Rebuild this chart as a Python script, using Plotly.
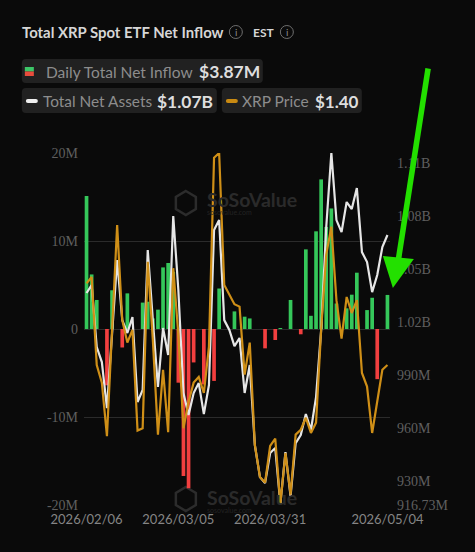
import plotly.graph_objects as go

W, H = 475, 552
L, R, T, B = 84.15, 390.15, 153, 505

dates = ["2026/02/06","2026/02/09","2026/02/10","2026/02/11","2026/02/12","2026/02/13","2026/02/17","2026/02/18","2026/02/19","2026/02/20",
         "2026/02/23","2026/02/24","2026/02/25","2026/02/26","2026/02/27","2026/03/02","2026/03/03","2026/03/04","2026/03/05","2026/03/06",
         "2026/03/09","2026/03/10","2026/03/11","2026/03/12","2026/03/13","2026/03/16","2026/03/17","2026/03/18","2026/03/19","2026/03/20",
         "2026/03/23","2026/03/24","2026/03/25","2026/03/26","2026/03/27","2026/03/30","2026/03/31","2026/04/01","2026/04/02","2026/04/06",
         "2026/04/07","2026/04/08","2026/04/09","2026/04/10","2026/04/13","2026/04/14","2026/04/15","2026/04/16","2026/04/17","2026/04/20",
         "2026/04/21","2026/04/22","2026/04/23","2026/04/24","2026/04/27","2026/04/28","2026/04/29","2026/04/30","2026/05/01","2026/05/04"]

net_inflow = [15.1,6.2,3.3,0,-6.4,4.4,0,-2.1,4.05,0,
              0,3.0,3.1,1.2,2.2,7.0,7.5,6.5,-6.1,-16.7,
              -18.1,-3.8,0,-6.3,0,-5.9,4.6,0,0,2.0,
              0,1.4,1.2,0,0,-2.2,0,-1.25,0.1,0,
              3.3,0,-0.6,9.05,1.5,11.1,17.0,11.6,13.7,2.9,
              0,2.35,3.9,6.4,0,2.15,3.55,-5.7,0,3.87]

net_assets = [1036.5,1041.0,1006.0,997.5,971.5,1015.6,1055.1,1021.2,1013.9,1022.9,
              974.9,981.7,1060.8,1021.2,983.4,1016.7,1001.5,1080.0,1038.2,980.0,
              967.6,980.0,985.6,968.1,984.5,1072.1,1077.7,1021.2,1015.6,1006.5,
              1011.1,980.0,995.8,950.6,932.5,929.1,946.1,948.9,917.3,946.6,
              921.8,951.7,956.3,968.1,959.1,977.7,1015.6,1073.8,1115.6,1077.7,
              1070.9,1087.9,1083.9,1095.8,1059.6,1054.0,1037.0,1046.7,1062.5,1069.3]

xrp_price = [1.502,1.510,1.400,1.378,1.311,1.444,1.575,1.456,1.428,1.444,
             1.318,1.321,1.529,1.431,1.313,1.394,1.316,1.521,1.438,1.321,
             1.354,1.378,1.385,1.365,1.423,1.659,1.665,1.500,1.488,1.476,
             1.473,1.388,1.428,1.300,1.260,1.253,1.299,1.308,1.226,1.290,
             1.238,1.313,1.319,1.334,1.315,1.328,1.444,1.538,1.573,1.481,
             1.433,1.485,1.465,1.481,1.390,1.373,1.315,1.356,1.394,1.400]

x_ticks = ["2026/02/06","2026/03/05","2026/03/31","2026/05/04"]
left_ticks = [-20,-10,0,10,20]
left_labels = ["-20M","-10M","0","10M","20M"]
right_ticks = [916.73,930,960,990,1020,1050,1080,1110]
right_labels = ["916.73M","930M","960M","990M","1.02B","1.05B","1.08B","1.11B"]

GREEN, RED, WHITE, GOLD = "#35c75a", "#f23f3f", "#e6e6e6", "#cf8f17"
BG = "#0a0a0a"
SANS = "Lato"

px = lambda x: (x - L) / (R - L)
py = lambda y: (B - y) / (B - T)

fig = go.Figure()
fig.add_trace(go.Bar(x=dates, y=net_inflow, marker_color=[GREEN if v >= 0 else RED for v in net_inflow],
                     marker_line_width=0, width=0.72, yaxis="y"))
fig.add_trace(go.Scatter(x=dates, y=net_assets, mode="lines", line=dict(color=WHITE, width=2.2), yaxis="y2", cliponaxis=False))
fig.add_trace(go.Scatter(x=dates, y=xrp_price, mode="lines", line=dict(color=GOLD, width=2.2), yaxis="y3", cliponaxis=False))

shapes, notes = [], []

def pxpath(p):
    out = []
    tokens = p.replace(",", " ").split()
    is_x = True
    for t in tokens:
        cmd = ""
        if t[0].isalpha():
            cmd, t = t[0], t[1:]
            is_x = True
            if not t:
                out.append(cmd)
                continue
        v = float(t)
        out.append(cmd + (f"{px(v):.5f}" if is_x else f"{py(v):.5f}"))
        is_x = not is_x
    return " ".join(out)

def rect(x0, y0, x1, y1, color, r=0):
    if r:
        p = (f"M{x0+r},{y0} L{x1-r},{y0} Q{x1},{y0} {x1},{y0+r} L{x1},{y1-r} Q{x1},{y1} {x1-r},{y1} "
             f"L{x0+r},{y1} Q{x0},{y1} {x0},{y1-r} L{x0},{y0+r} Q{x0},{y0} {x0+r},{y0} Z")
        shapes.append(dict(type="path", path=pxpath(p), fillcolor=color, line_width=0, xref="paper", yref="paper", layer="below"))
    else:
        shapes.append(dict(type="rect", x0=px(x0), x1=px(x1), y0=py(y0), y1=py(y1), fillcolor=color, line_width=0,
                           xref="paper", yref="paper", layer="below"))

def text(x, y, s, size, color, bold=False, anchor="left", family=SANS):
    notes.append(dict(x=px(x), y=py(y), xref="paper", yref="paper", text=f"<b>{s}</b>" if bold else s, showarrow=False,
                      xanchor=anchor, yanchor="middle", font=dict(size=size, color=color, family=family), borderpad=0, borderwidth=0))

def icon(cx, cy):
    shapes.append(dict(type="circle", x0=px(cx-6.5), x1=px(cx+6.5), y0=py(cy-6.5), y1=py(cy+6.5), xref="paper", yref="paper",
                       line=dict(color="#6e6e6e", width=1)))
    text(cx, cy, "i", 10, "#8a8a8a", anchor="center")

# header
text(22, 32, "Total XRP Spot ETF Net Inflow", 14.9, "#d6d6d6", bold=True)
icon(236, 32)
text(253, 32, "EST", 12, "#d6d6d6", bold=True)
icon(287, 32)

# legend pills
rect(22, 59, 263, 83, "#212121", 4)
rect(22, 88, 217, 113, "#212121", 4)
rect(222, 88, 362, 113, "#212121", 4)
rect(25, 67, 34, 71.5, "#3cc768")
rect(25, 71.5, 34, 76, "#e84c3c")
rect(26, 99, 38, 103, "#f0f0f0", 2)
rect(226, 99, 238, 103, "#c98a12", 2)
text(46, 71.5, "Daily Total Net Inflow", 15.5, "#8d8d8d")
text(199, 71.5, "$3.87M", 17.5, "#dedede", bold=True)
text(43, 101, "Total Net Assets", 15.4, "#8d8d8d")
text(157, 101, "$1.07B", 17.4, "#dedede", bold=True)
text(242, 101, "XRP Price", 15.5, "#8d8d8d")
text(315, 101, "$1.40", 17, "#dedede", bold=True)

# watermarks
for wy, hy in ((199, 203), (497, 499)):
    hexp = f"M186,{hy-12} L196,{hy-6} L196,{hy+6} L186,{hy+12} L176,{hy+6} L176,{hy-6} Z"
    shapes.append(dict(type="path", path=pxpath(hexp), line=dict(color="#2c2c2c", width=2.5), fillcolor="rgba(0,0,0,0)",
                       xref="paper", yref="paper", layer="below"))
    text(207, wy, "<b>SoSoValue</b>", 19.5, "#2a2a2a")
    text(207, wy + 13, "sosovalue.com", 7, "#232323")

# green arrow
shapes.append(dict(type="path", path=pxpath("M425.5,68 L431,69 L401,262 L395.5,261 Z"), fillcolor="#23e000", line_width=0,
                   xref="paper", yref="paper"))
shapes.append(dict(type="path", path=pxpath("M383,256 L414,259 L393,288 Z"), fillcolor="#23e000", line_width=0,
                   xref="paper", yref="paper"))

tick_font = dict(family="Liberation Serif", size=14, color="#5f5f5f")
fig.update_layout(
    width=W, height=H, showlegend=False, paper_bgcolor=BG, plot_bgcolor=BG, barmode="relative",
    margin=dict(l=L, r=W-R, t=T, b=H-B, pad=0), shapes=shapes, annotations=notes,
    xaxis=dict(type="category", categoryorder="array", categoryarray=dates, range=[-0.5, 59.5], tickmode="array",
               tickvals=x_ticks, ticktext=x_ticks, tickangle=0, showgrid=False, zeroline=False, showline=False, ticks="",
               ticklen=0, ticklabelstandoff=5, tickfont=dict(family="Lato", size=13, color="#858585")),
    yaxis=dict(range=[-20, 20], tickmode="array", tickvals=left_ticks, ticktext=left_labels, showgrid=True,
               gridcolor="#2b2b2b", gridwidth=1, zeroline=False, showline=False, tickfont=tick_font, ticks="",
               ticklabelstandoff=5),
    yaxis2=dict(range=[916.73, 1115.6], overlaying="y", side="right", tickmode="array", tickvals=right_ticks,
                ticktext=right_labels, showgrid=False, zeroline=False, showline=False, tickfont=tick_font, ticks="",
                ticklabelstandoff=6),
    yaxis3=dict(range=[1.225, 1.665], overlaying="y", side="right", visible=False, showgrid=False, zeroline=False),
)
fig.write_html("out.html", config=dict(displayModeBar=False),
               post_script="document.body.style.margin='0';document.body.style.background='#0a0a0a';")
